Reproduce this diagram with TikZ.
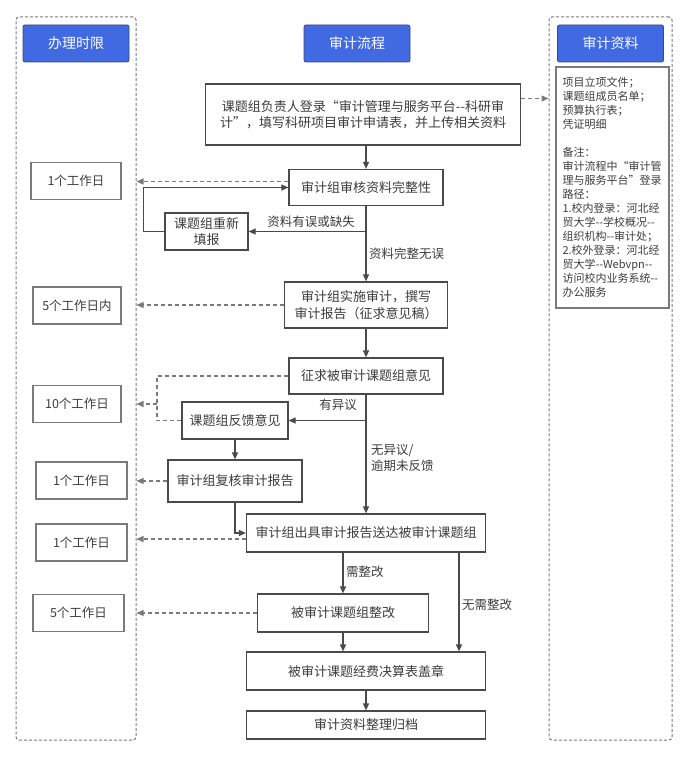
\documentclass[tikz,border=0pt]{standalone}
\usepackage{fontspec}
\setmainfont{Noto Sans CJK SC}
\usepackage{xcolor}
\usetikzlibrary{arrows.meta}
\definecolor{azul}{HTML}{4169E1}
\definecolor{azulborda}{HTML}{3A4A70}
\definecolor{linha}{HTML}{4A4A4A}
\definecolor{texto}{HTML}{3C3C3C}
\definecolor{cinza}{HTML}{7A7A7A}
\newcommand{\hifen}{-{}-}

\begin{document}
\begin{tikzpicture}[x=1pt, y=-1pt,
  caixa/.style={draw=linha, line width=1.2pt, fill=white, text=texto, align=center,
    inner sep=0pt, font=\fontsize{13}{16.5}\selectfont},
  prazobox/.style={draw=cinza, line width=1.2pt, text=texto, inner sep=0pt,
    minimum height=37, font=\fontsize{12.5}{15}\selectfont},
  titulo/.style={draw=azulborda, line width=0.8pt, fill=azul, rounded corners=2pt, text=white,
    minimum width=106, minimum height=37, inner sep=0pt, font=\fontsize{14}{16}\selectfont},
  moldura/.style={draw=cinza, line width=1pt, dash pattern=on 3pt off 2pt, rounded corners=3pt,
    minimum width=120, minimum height=723, inner sep=0pt},
  rotulo/.style={text=texto, inner sep=0pt, align=left, font=\fontsize{12.5}{16}\selectfont},
  seta/.style={draw=linha, line width=1.2pt, -{Triangle[length=7pt,width=6pt]}},
  tracejada/.style={seta, draw=cinza, dash pattern=on 4pt off 3pt}]

\useasboundingbox (0,0) rectangle (690,757);

% Colunas laterais
\node[moldura] (prazo) at (76,378.5) {};
\node[moldura, minimum width=123] (docs) at (610.5,378.5) {};

% Titulos
\node[titulo] (tprazo) at (76,43.5) {办理时限};
\node[titulo] (tfluxo) at (357,43.5) {审计流程};
\node[titulo] (tdocs) at (610.5,43.5) {审计资料};

% Lista de materiais
\node[draw=cinza, line width=1.2pt, minimum width=113, minimum height=241, inner sep=0pt,
  text=texto, font=\fontsize{11}{14}\selectfont] (lista) at (612.5,187.5)
  {\parbox{100pt}{项目立项文件；\\课题组成员名单；\\预算执行表；\\凭证明细\\[14pt]
  备注：\\审计流程中“审计管\\理与服务平台”登录\\路径：\\1.校内登录：河北经\\
  贸大学\hifen 学校概况\hifen\\组织机构\hifen 审计处；\\2.校外登录：河北经\\贸大学\hifen Webvpn\hifen\\
  访问校内业务系统\hifen\\办公服务}};

% Etapas do fluxo
\node[caixa, minimum width=315, minimum height=61] (inicio) at (363,114.5)
  {课题组负责人登录“审计管理与服务平台\hifen 科研审\\计”，填写科研项目审计申请表，并上传相关资料};
\node[caixa, minimum width=154, minimum height=36] (verifica) at (366,187.5) {审计组审核资料完整性};
\node[caixa, minimum width=83, minimum height=37] (refaz) at (206.5,231.5) {课题组重新\\填报};
\node[caixa, minimum width=163, minimum height=46] (auditoria) at (366,305) {审计组实施审计，撰写\\审计报告（征求意见稿）};
\node[caixa, minimum width=154, minimum height=36] (consulta) at (366,376) {征求被审计课题组意见};
\node[caixa, minimum width=106, minimum height=37] (retorno) at (235,420.5) {课题组反馈意见};
\node[caixa, minimum width=134, minimum height=42] (reexame) at (235,481) {审计组复核审计报告};
\node[caixa, minimum width=239, minimum height=38] (relatorio) at (366,533) {审计组出具审计报告送达被审计课题组};
\node[caixa, minimum width=171, minimum height=38] (correcao) at (343,613) {被审计课题组整改};
\node[caixa, minimum width=239, minimum height=38] (carimbo) at (366,671) {被审计课题经费决算表盖章};
\node[caixa, minimum width=239, minimum height=28] (arquivo) at (366,725) {审计资料整理归档};

% Prazos
\node[prazobox, minimum width=90] (p1) at (76,181) {1个工作日};
\node[prazobox, minimum width=88] (p2) at (77,305.5) {5个工作日内};
\node[prazobox, minimum width=88] (p3) at (77,404) {10个工作日};
\node[prazobox, minimum width=91] (p4) at (81.5,480.5) {1个工作日};
\node[prazobox, minimum width=91] (p5) at (81.5,542.5) {1个工作日};
\node[prazobox, minimum width=91] (p6) at (78.5,613) {5个工作日};

% Setas principais
\draw[seta] (inicio.south -| verifica.north) -- (verifica.north);
\draw[seta] (verifica.south) |- (refaz.east);
\draw[seta] (refaz.west) -- ++(-21,0) |- (verifica.west);
\draw[seta] (verifica.south) -- (auditoria.north);
\draw[seta] (auditoria.south) -- (consulta.north);
\draw[seta] (consulta.south) |- (retorno.east);
\draw[seta] (consulta.south) -- (relatorio.north);
\draw[seta] (retorno.south) -- (reexame.north);
\draw[seta] (reexame.south) |- (relatorio.west);
\draw[seta] (relatorio.south -| correcao.north) -- (correcao.north);
\draw[seta] ([xshift=93]relatorio.south) -- ([xshift=93]relatorio.south |- carimbo.north);
\draw[seta] (correcao.south) -- (correcao.south |- carimbo.north);
\draw[seta] (carimbo.south) -- (arquivo.north);

% Rotulos
\node[rotulo] (erro) at (311,222) {资料有误或缺失};
\node[rotulo, anchor=west] (ok) at (369,254) {资料完整无误};
\node[rotulo] (objecao) at (338,405) {有异议};
\node[rotulo, anchor=west] (semobj) at (371,458) {无异议/\\逾期未反馈};
\node[rotulo, anchor=west] (precisa) at (346,572) {需整改};
\node[rotulo, anchor=west] (naoprecisa) at (462,605) {无需整改};

% Setas tracejadas
\draw[tracejada] ([yshift=16]inicio.east) -- ([yshift=16]inicio.east -| docs.west);
\draw[tracejada] ([yshift=6]verifica.west) -- ([yshift=6]verifica.west -| prazo.east);
\draw[tracejada] (auditoria.west) -- (auditoria.west -| prazo.east);
\coordinate (juncao) at (157,404);
\draw[draw=cinza, line width=1.2pt, dash pattern=on 4pt off 3pt] (consulta.west) -| (juncao) |- (retorno.west);
\draw[tracejada] (juncao) -- (juncao -| prazo.east);
\draw[tracejada] (reexame.west) -- (reexame.west -| prazo.east);
\draw[tracejada] ([yshift=-6]relatorio.west) -- ([yshift=-6]relatorio.west -| prazo.east);
\draw[tracejada] (correcao.west) -- (correcao.west -| prazo.east);

\end{tikzpicture}
\end{document}
